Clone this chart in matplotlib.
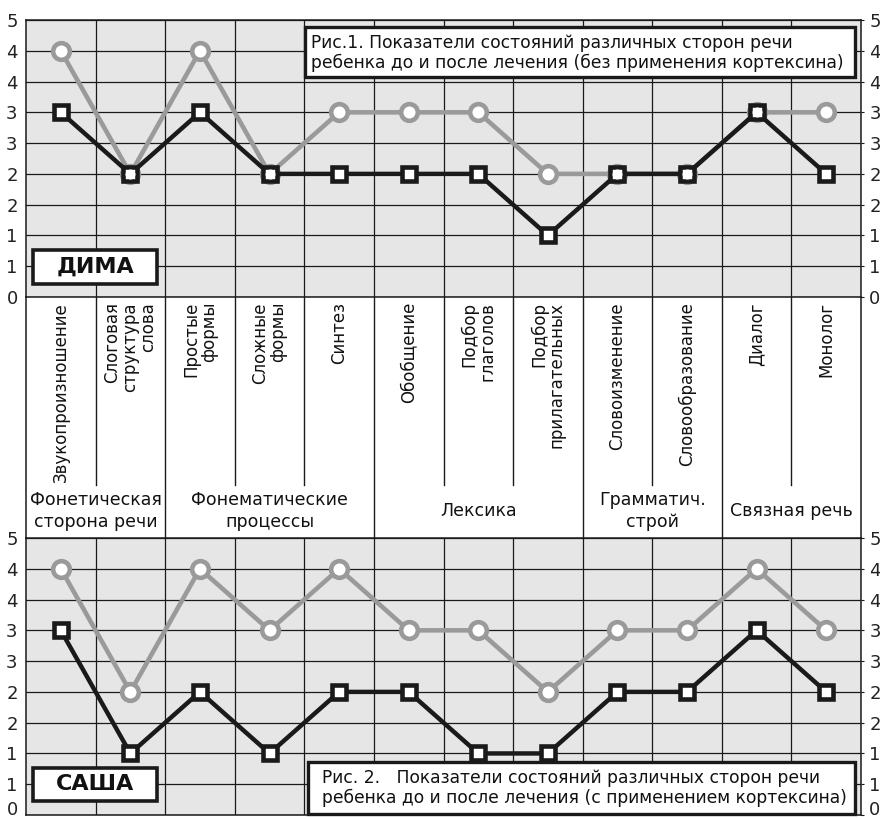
import numpy as np
import matplotlib
matplotlib.use('Agg')
import matplotlib.pyplot as plt
from matplotlib.patches import Rectangle

plt.rcParams['font.family'] = ['DejaVu Sans']

# ---------------- data ----------------
categories = ['Звукопроизношение', 'Слоговая\nструктура\nслова', 'Простые\nформы',
              'Сложные\nформы', 'Синтез', 'Обобщение', 'Подбор\nглаголов',
              'Подбор\nприлагательных', 'Словоизменение', 'Словообразование',
              'Диалог', 'Монолог']
groups = ['Фонетическая\nсторона речи', 'Фонематические\nпроцессы', 'Лексика',
          'Грамматич.\nстрой', 'Связная речь']
group_sizes = [2, 3, 3, 2, 2]

dima_after = [4, 2, 4, 2, 3, 3, 3, 2, 2, 2, 3, 3]
dima_before = [3, 2, 3, 2, 2, 2, 2, 1, 2, 2, 3, 2]
sasha_after = [4, 2, 4, 3, 4, 3, 3, 2, 3, 3, 4, 3]
sasha_before = [3, 1, 2, 1, 2, 2, 1, 1, 2, 2, 3, 2]

y_ticks = [0, 0.5, 1, 1.5, 2, 2.5, 3, 3.5, 4, 4.5]
y_tick_labels = ['0', '1', '1', '2', '2', '3', '3', '4', '4', '5']

title1 = 'Рис.1. Показатели состояний различных сторон речи\nребенка до и после лечения (без применения кортексина)'
title2 = 'Рис. 2.   Показатели состояний различных сторон речи\nребенка до и после лечения (с применением кортексина)'
names = ['ДИМА', 'САША']

# ---------------- layout (pixels) ----------------
W, H = 880, 819
X0, X1 = 26, 861
TOP_PANEL = (20, 297)
BOT_PANEL = (538, 815)

GREY = '#9a9a9a'
BLACK = '#1a1a1a'
BG = '#e6e6e6'

fig = plt.figure(figsize=(W / 100, H / 100), dpi=100)
fig.patch.set_facecolor('white')


def rect_fig(y_top, y_bot):
    return [X0 / W, 1 - y_bot / H, (X1 - X0) / W, (y_bot - y_top) / H]


def to_ax(xp, yp, ytop, ybot):
    return (xp - X0) / (X1 - X0), (ybot - yp) / (ybot - ytop)


def panel(ext, after, before, name, title, tbox, tpos, nbox):
    ytop, ybot = ext
    ax = fig.add_axes(rect_fig(ytop, ybot))
    ax.set_facecolor(BG)
    n = len(categories)
    x = np.arange(n)
    ax.set_xlim(-0.5, n - 0.5)
    ax.set_ylim(0, 4.5)
    ax.set_yticks(y_ticks)
    ax.set_yticklabels(y_tick_labels)
    ax.set_xticks([])
    ax.set_xticks(x[:-1] + 0.5, minor=True)
    ax.grid(True, which='major', axis='y', color=BLACK, lw=0.9)
    ax.grid(True, which='minor', axis='x', color=BLACK, lw=0.9)
    ax.set_axisbelow(True)
    ax.tick_params(axis='y', which='both', left=False, right=True,
                   labelleft=True, labelright=True, length=2, pad=4,
                   labelsize=13, labelcolor='#222222', color=BLACK)
    ax.tick_params(axis='x', which='both', bottom=False, labelbottom=False,
                   top=False)
    for s in ax.spines.values():
        s.set_linewidth(1.1)
        s.set_color(BLACK)

    ax.plot(x, after, color=GREY, lw=3.3, marker='o', ms=12, mfc='white',
            mec=GREY, mew=3.3, zorder=3)
    ax.plot(x, before, color=BLACK, lw=3.2, marker='s', ms=9.8, mfc='white',
            mec=BLACK, mew=3.3, zorder=4)
    ax.plot(x, after, ls='none', marker='o', ms=7.2, mfc='white', mec='none',
            zorder=5)

    # title box
    bx0, by0 = to_ax(tbox[0], tbox[3], ytop, ybot)
    bx1, by1 = to_ax(tbox[2], tbox[1], ytop, ybot)
    ax.add_patch(Rectangle((bx0, by0), bx1 - bx0, by1 - by0, transform=ax.transAxes,
                           fc='white', ec=BLACK, lw=2.4, zorder=6, clip_on=False))
    tx, ty = to_ax(tpos[0], tpos[1], ytop, ybot)
    ax.text(tx, ty, title, transform=ax.transAxes, ha='left', va='center',
            fontsize=12.3, linespacing=1.15, color='#111111', zorder=7)

    # name box
    nx0, ny0 = to_ax(nbox[0], nbox[3], ytop, ybot)
    nx1, ny1 = to_ax(nbox[2], nbox[1], ytop, ybot)
    ax.add_patch(Rectangle((nx0, ny0), nx1 - nx0, ny1 - ny0, transform=ax.transAxes,
                           fc='white', ec=BLACK, lw=2.6, zorder=6, clip_on=False))
    ax.text((nx0 + nx1) / 2, (ny0 + ny1) / 2, name, transform=ax.transAxes,
            ha='center', va='center', fontsize=16, fontweight='bold',
            color='#111111', zorder=7)
    return ax


panel(TOP_PANEL, dima_after, dima_before, names[0], title1,
      (305, 27, 855, 77), (311, 53), (33, 250, 157, 284))
ax_b = panel(BOT_PANEL, sasha_after, sasha_before, names[1], title2,
             (308, 762, 855, 814), (322, 788), (33, 768, 157, 801))

# keep the bottom "0" labels inside the figure
t0 = ax_b.yaxis.get_major_ticks()[0]
for lbl in (t0.label1, t0.label2):
    lbl.set_va('baseline')

# ---------------- middle label band ----------------
mid_top, mid_bot = TOP_PANEL[1], BOT_PANEL[0]
mx = fig.add_axes(rect_fig(mid_top, mid_bot))
n = len(categories)
mx.set_xlim(-0.5, n - 0.5)
mx.set_ylim(0, 1)
mx.axis('off')


def my(yp):
    return (mid_bot - yp) / (mid_bot - mid_top)


bounds = np.cumsum(group_sizes)[:-1] - 0.5
for b in np.arange(n - 1) + 0.5:
    if b in bounds:
        mx.plot([b, b], [0, 1], color=BLACK, lw=1.0, clip_on=False)
    else:
        mx.plot([b, b], [my(485), 1], color=BLACK, lw=1.0, clip_on=False)
for b in (-0.5, n - 0.5):
    mx.plot([b, b], [0, 1], color=BLACK, lw=1.1, clip_on=False)

for i, lab in enumerate(categories):
    mx.text(i, my(302), lab, rotation=90, ha='center', va='top',
            multialignment='right', fontsize=12, linespacing=1.0,
            color='#111111')

starts = np.concatenate([[0], np.cumsum(group_sizes)[:-1]])
for g, s, k in zip(groups, starts, group_sizes):
    cx = s + (k - 1) / 2
    mx.text(cx, my(511), g, ha='center', va='center', multialignment='center',
            fontsize=12.5, linespacing=1.3, color='#111111')

fig.savefig('out.png', dpi=100)
